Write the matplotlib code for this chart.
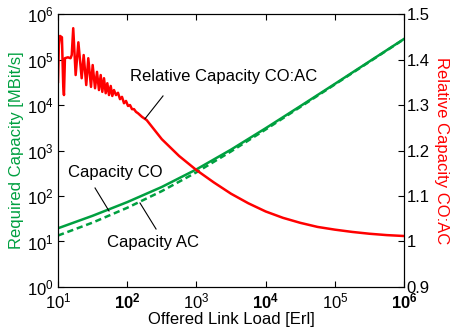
import numpy as np
import matplotlib
matplotlib.use("Agg")
import matplotlib.pyplot as plt

plt.rcParams["font.family"] = ["Liberation Sans", "DejaVu Sans"]
plt.rcParams["mathtext.fontset"] = "custom"
plt.rcParams["mathtext.rm"] = "Liberation Sans"
plt.rcParams["mathtext.bf"] = "Liberation Sans:bold"

# Required capacity [MBit/s] vs offered load [Erl]
load_cap = [10, 31.6, 100, 316, 1000, 3162, 1e4, 31620, 1e5, 316200, 1e6]
cap_co = [19.5, 36.7, 73.3, 158, 385, 1047, 3090, 9440, 29200, 91200, 285000]
cap_ac = [13.5, 26.0, 55.0, 128, 332, 955, 2900, 9060, 28400, 89500, 282000]

# Relative capacity CO:AC
load_rel = [10.0, 10.3, 10.7, 11.4, 11.9, 12.2, 12.6, 13.9, 15.2, 15.8, 16.6, 18.0, 19.7,
            22.0, 23.5, 25.6, 27.4, 30.0, 31.7, 34.3, 36.6, 39.1, 41.4, 43.7, 46.2, 48.9,
            51.6, 54.6, 57.8, 60.9, 64.4, 68.9, 73.6, 78.7, 84.1, 89.9, 96.1, 102.7,
            109.8, 117.3, 125.4, 134.0, 143.2, 153.1, 163.6, 174.9, 191, 316, 562, 1000,
            1778, 3162, 5623, 1e4, 17780, 31620, 56230, 1e5, 177800, 316200, 562300, 1e6]
rel = [1.351, 1.432, 1.452, 1.449, 1.344, 1.322, 1.403, 1.405, 1.403, 1.410, 1.469, 1.366,
       1.438, 1.359, 1.410, 1.344, 1.403, 1.340, 1.388, 1.337, 1.373, 1.333, 1.366, 1.329,
       1.359, 1.326, 1.348, 1.322, 1.342, 1.320, 1.333, 1.322, 1.327, 1.313, 1.318, 1.304,
       1.309, 1.298, 1.300, 1.291, 1.291, 1.285, 1.282, 1.278, 1.274, 1.271, 1.267, 1.225,
       1.188, 1.157, 1.130, 1.105, 1.084, 1.066, 1.052, 1.041, 1.032, 1.026, 1.021, 1.017,
       1.014, 1.012]

green = "#00A040"
red = "#FF0000"

fig = plt.figure(figsize=(4.53, 3.36), dpi=100)
ax = fig.add_axes([0.128, 0.146, 0.764, 0.812])
ax2 = ax.twinx()

ax.plot(load_cap, cap_co, color=green, lw=1.8)
ax.plot(load_cap, cap_ac, color=green, lw=1.8, ls=(0, (2.5, 1.5)))
ax2.plot(load_rel, rel, color=red, lw=1.8)

ax.set_xscale("log")
ax.set_yscale("log")
ax.set_xlim(10, 1e6)
ax.set_ylim(1, 1e6)
ax2.set_ylim(0.9, 1.5)

xt = [10, 1e2, 1e3, 1e4, 1e5, 1e6]
ax.set_xticks(xt)
ax.set_xticklabels([r"$\mathrm{10^{1}}$", r"$\mathbf{10^{2}}$", r"$\mathrm{10^{3}}$",
                    r"$\mathbf{10^{4}}$", r"$\mathrm{10^{5}}$", r"$\mathbf{10^{6}}$"])
yt = [1, 10, 1e2, 1e3, 1e4, 1e5, 1e6]
ax.set_yticks(yt)
ax.set_yticklabels([r"$\mathrm{10^{%d}}$" % i for i in range(7)])
ax.minorticks_off()
ax2.set_yticks([0.9, 1.0, 1.1, 1.2, 1.3, 1.4, 1.5])
ax2.set_yticklabels(["0.9", "1", "1.1", "1.2", "1.3", "1.4", "1.5"])

ax.tick_params(direction="in", length=4, labelsize=12, top=True, right=False, pad=3)
ax2.tick_params(direction="in", length=4, labelsize=12, pad=2)

ax.set_xlabel("Offered Link Load [Erl]", fontsize=12, labelpad=1)
ax.set_ylabel("Required Capacity [MBit/s]", fontsize=12, color=green, labelpad=2)
ax2.set_ylabel("Relative Capacity CO:AC", fontsize=12, color=red, rotation=270, labelpad=14)

# annotations
ax2.text(110, 1.362, "Relative Capacity CO:AC", fontsize=12, va="center", ha="left")
ax2.plot([329, 181], [1.32, 1.27], color="black", lw=0.8)
ax.text(13.9, 335, "Capacity CO", fontsize=12, va="center", ha="left")
ax.plot([34.3, 54.6], [150, 46.8], color="black", lw=0.8)
ax.text(51, 9.27, "Capacity AC", fontsize=12, va="center", ha="left")
ax.plot([153, 261], [70.2, 18.8], color="black", lw=0.8)

fig.savefig("out.png", dpi=100)
